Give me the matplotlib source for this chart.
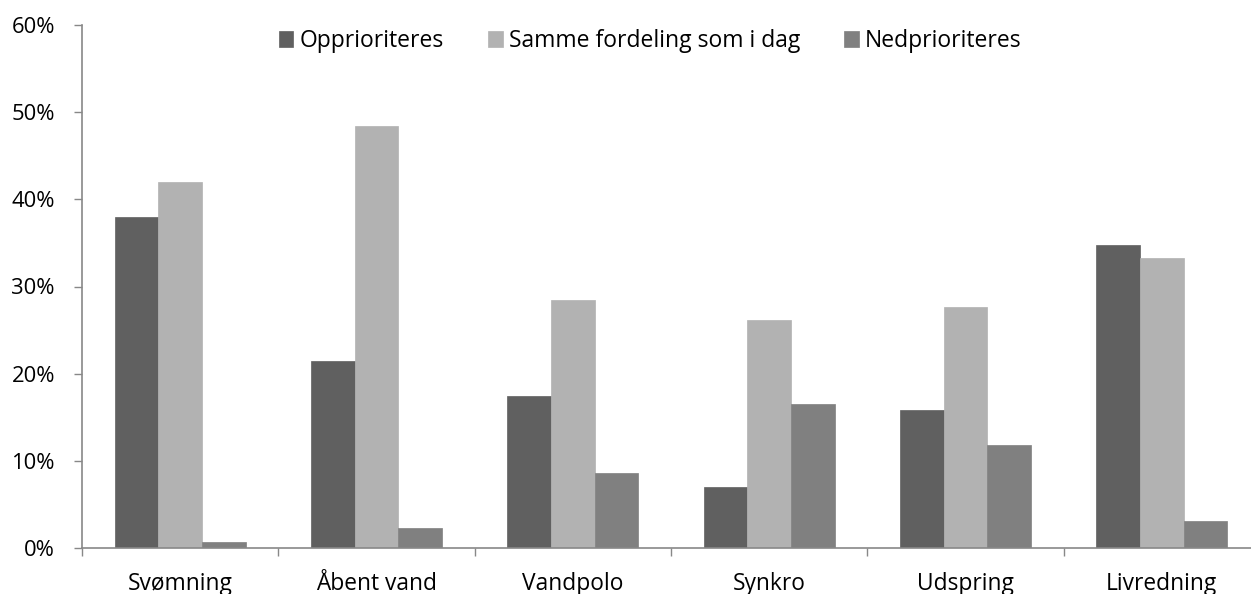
import matplotlib
matplotlib.use("Agg")
import matplotlib.pyplot as plt
import numpy as np
from matplotlib.ticker import PercentFormatter

categories = ["Svømning", "Åbent vand", "Vandpolo", "Synkro", "Udspring", "Livredning"]
series_names = ["Opprioriteres", "Samme fordeling som i dag", "Nedprioriteres"]
opprioriteres = [38.0, 21.4, 17.4, 7.0, 15.8, 34.8]
samme = [42.0, 48.4, 28.5, 26.1, 27.7, 33.3]
nedprioriteres = [0.7, 2.3, 8.6, 16.5, 11.8, 3.1]
yticks = [0, 10, 20, 30, 40, 50, 60]

colors = ["#606060", "#b2b2b2", "#808080"]
plt.rcParams['font.family'] = ['Open Sans', 'DejaVu Sans']

fig = plt.figure(figsize=(12.51, 5.94), dpi=100)
ax = fig.add_axes([82/1251, 46/594, (1260-82)/1251, (548-25)/594])

x = np.arange(len(categories))
w = 1/4.5
for i, (vals, name) in enumerate(zip([opprioriteres, samme, nedprioriteres], series_names)):
    ax.bar(x + (i-1)*w, vals, width=w, color=colors[i], label=name,
           edgecolor=colors[i], linewidth=0.5)

ax.set_xlim(-0.5, len(categories)-0.5)
ax.set_ylim(0, 60)
ax.set_yticks(yticks)
ax.yaxis.set_major_formatter(PercentFormatter(decimals=0))
ax.set_xticks(x)
ax.set_xticklabels(categories)
ax.set_xticks(np.arange(len(categories)+1)-0.5, minor=True)
ax.tick_params(axis='x', which='major', length=0, pad=17, labelsize=16.4)
ax.tick_params(axis='x', which='minor', length=6, width=1, color='#888888', direction='out')
ax.tick_params(axis='y', which='major', length=6, width=1, color='#888888', pad=13.5, labelsize=15.8)

for s in ['top', 'right']:
    ax.spines[s].set_visible(False)
for s in ['left', 'bottom']:
    ax.spines[s].set_color('#888888')
    ax.spines[s].set_linewidth(1.2)

leg = ax.legend(loc='center', bbox_to_anchor=(650/1251, 1 - 41/594), bbox_transform=fig.transFigure,
                ncol=3, frameon=False, fontsize=16.5, handlelength=0.65, handleheight=0.65,
                handletextpad=0.26, columnspacing=1.92)

fig.savefig("out.png", dpi=100)
